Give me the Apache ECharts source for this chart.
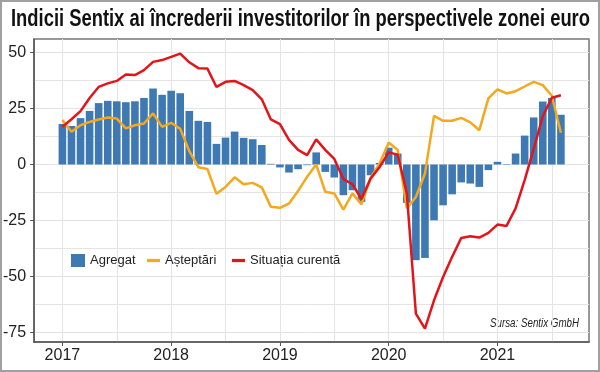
<!DOCTYPE html>
<html>
<head>
<meta charset="utf-8">
<script src="https://cdn.jsdelivr.net/npm/echarts@6/dist/echarts.min.js"></script>
<style>
html,body{margin:0;padding:0;background:#fff;}
#c{width:600px;height:372px;}
</style>
</head>
<body>
<div id="c"></div>
<script>
// Monthly data, Jan 2017 .. Aug 2021 (index 0 = Jan 2017)
const agregat = [18.1, 17.2, 20.7, 23.9, 27.4, 28.4, 28.2, 27.8, 28.2, 29.7,
  33.9, 31.1, 32.9, 31.8, 23.9, 19.5, 19.0, 9.2, 12.0, 14.7,
  11.9, 11.3, 8.7, 0.3, -1.3, -3.6, -2.1, -0.3, 5.4, -3.3,
  -5.8, -13.7, -11.5, -16.7, -4.8, 0.7, 7.5, 4.9, -17.1, -42.7,
  -41.7, -24.9, -18.2, -13.3, -8.0, -8.5, -10.0, -2.5, 1.2, 0.2,
  4.9, 12.9, 21.0, 28.1, 29.7, 22.2];
const asteptari = [19.8, 14.6, 17.5, 19.0, 20.1, 21.0, 20.5, 16.1, 17.5, 18.3,
  22.8, 16.8, 18.6, 15.9, 6.0, -1.2, -2.0, -13.1, -10.0, -5.7,
  -8.8, -8.2, -10.2, -18.9, -19.3, -17.4, -11.8, -5.5, 0.0, -12.2,
  -12.9, -20.1, -12.9, -17.8, -6.0, 0.5, 9.8, 6.5, -19.6, -14.5,
  -4.0, 21.7, 19.5, 19.5, 20.8, 18.8, 15.3, 29.5, 33.5, 31.7,
  32.7, 34.8, 36.9, 35.4, 30.7, 14.2];
const situatia = [16.8, 20.2, 23.8, 29.7, 34.6, 36.2, 37.3, 40.2, 39.9, 42.1,
  45.8, 46.6, 48.0, 49.5, 45.6, 43.0, 42.8, 34.6, 36.9, 37.3,
  35.4, 33.2, 29.1, 20.1, 18.0, 11.0, 6.5, 4.2, 11.2, 6.5,
  2.5, -6.5, -8.8, -15.4, -6.3, -1.1, 5.4, 4.4, -12.9, -66.5,
  -73.2, -60.6, -50.2, -41.2, -32.8, -32.0, -32.6, -30.5, -26.8, -27.4,
  -19.6, -7.0, 7.0, 21.5, 29.8, 30.9];

const yearLabels = ['2017', '2018', '2019', '2020', '2021'];
const yearTickPos = [0, 12, 24, 36, 48];          // month index of each January
const halfYearGrid = [0, 6, 12, 18, 24, 30, 36, 42, 48, 54];
const yLabels = [-75, -50, -25, 0, 25, 50];
const yGrid = [-75, -62.5, -50, -37.5, -25, -12.5, 0, 12.5, 25, 37.5, 50];

const seriesNames = ['Agregat', 'Așteptări', 'Situația curentă'];
const titleText = 'Indicii Sentix ai încrederii investitorilor în perspectivele zonei euro';
const sourceText = 'Sursa: Sentix GmbH';

const FONT = '"Liberation Sans", "Noto Sans", sans-serif';

// fit text widths (condensed look) by horizontal scaling
const mctx = document.createElement('canvas').getContext('2d');
function measure(font, txt) { mctx.font = font; return mctx.measureText(txt).width; }
const titleFont = 'bold 23px ' + FONT;
const titleScale = 579 / measure(titleFont, titleText);
const srcFont = 'italic 13px ' + FONT;
const srcScale = 89 / measure(srcFont, sourceText);

const toXY = arr => arr.map((v, i) => [i, v]);

const chart = echarts.init(document.getElementById('c'), null, {renderer: 'canvas'});
const XMIN = -3.12, XMAX = 58.1, YMIN = -79.2, YMAX = 56;
const linePath = 'path://M0,0 L12,0 L12,3 L0,3 Z';

chart.setOption({
  animation: false,
  backgroundColor: '#fff',
  grid: {left: 33, right: 11, top: 39, bottom: 30, show: true,
    borderColor: '#777', borderWidth: 1.5, backgroundColor: 'transparent'},
  legend: [
    {data: [seriesNames[0]], left: 71, top: 254, padding: 0, icon: 'rect',
      itemWidth: 14, itemHeight: 13, itemGap: 5,
      textStyle: {fontFamily: FONT, fontSize: 13, color: '#222'}},
    {data: [seriesNames[1]], left: 147, top: 254, padding: 0, icon: linePath,
      itemWidth: 13, itemHeight: 13, itemGap: 5,
      textStyle: {fontFamily: FONT, fontSize: 13, color: '#222'}},
    {data: [seriesNames[2]], left: 232, top: 254, padding: 0, icon: linePath,
      itemWidth: 13, itemHeight: 13, itemGap: 5,
      textStyle: {fontFamily: FONT, fontSize: 13, color: '#222'}}
  ],
  xAxis: [
    {type: 'value', min: XMIN, max: XMAX, position: 'bottom',
      axisLine: {show: true, onZero: false, lineStyle: {color: '#555', width: 1.5}},
      axisTick: {show: false, customValues: halfYearGrid},
      axisLabel: {show: false},
      splitLine: {show: true, lineStyle: {color: '#e4e4e4', width: 1}}},
    {type: 'value', min: XMIN, max: XMAX, position: 'bottom',
      axisLine: {show: false, onZero: false},
      axisTick: {show: true, customValues: yearTickPos, length: 4, lineStyle: {color: '#555', width: 1}},
      axisLabel: {show: true, customValues: yearTickPos, margin: 6,
        formatter: v => yearLabels[yearTickPos.indexOf(v)],
        fontFamily: FONT, fontSize: 16, color: '#222'},
      splitLine: {show: false}}
  ],
  yAxis: [
    {type: 'value', min: YMIN, max: YMAX,
      axisLine: {show: true, onZero: false, lineStyle: {color: '#555', width: 1.5}},
      axisTick: {show: false, customValues: yGrid},
      axisLabel: {show: false},
      splitLine: {show: true, lineStyle: {color: '#e4e4e4', width: 1}}},
    {type: 'value', min: YMIN, max: YMAX, position: 'left',
      axisLine: {show: false, onZero: false},
      axisTick: {show: true, customValues: yLabels, length: 4, lineStyle: {color: '#555', width: 1}},
      axisLabel: {show: true, customValues: yLabels, margin: 8,
        fontFamily: FONT, fontSize: 16, color: '#222'},
      splitLine: {show: false}}
  ],
  series: [
    {name: seriesNames[0], type: 'bar', data: toXY(agregat), barWidth: 7.6,
      itemStyle: {color: '#3e79b4'}, xAxisIndex: 0, yAxisIndex: 0, z: 2},
    {name: seriesNames[1], type: 'line', data: toXY(asteptari), showSymbol: false,
      lineStyle: {color: '#f5a81e', width: 2.5}, itemStyle: {color: '#f5a81e'},
      xAxisIndex: 0, yAxisIndex: 0, z: 3},
    {name: seriesNames[2], type: 'line', data: toXY(situatia), showSymbol: false,
      lineStyle: {color: '#e3151b', width: 2.5}, itemStyle: {color: '#e3151b'},
      xAxisIndex: 0, yAxisIndex: 0, z: 4}
  ],
  graphic: [
    {type: 'rect', shape: {x: 1, y: 1, width: 598, height: 370}, silent: true,
      style: {fill: 'none', stroke: '#a0a0a0', lineWidth: 2}},
    {type: 'text', x: 300.5, y: 19.5, scaleX: titleScale, silent: true,
      style: {text: titleText, font: titleFont, fill: '#111',
        textAlign: 'center', textVerticalAlign: 'middle'}},
    {type: 'text', x: 579, y: 323, scaleX: srcScale, silent: true,
      style: {text: sourceText, font: srcFont, fill: '#222',
        textAlign: 'right', textVerticalAlign: 'middle'}}
  ]
});
</script>
</body>
</html>
